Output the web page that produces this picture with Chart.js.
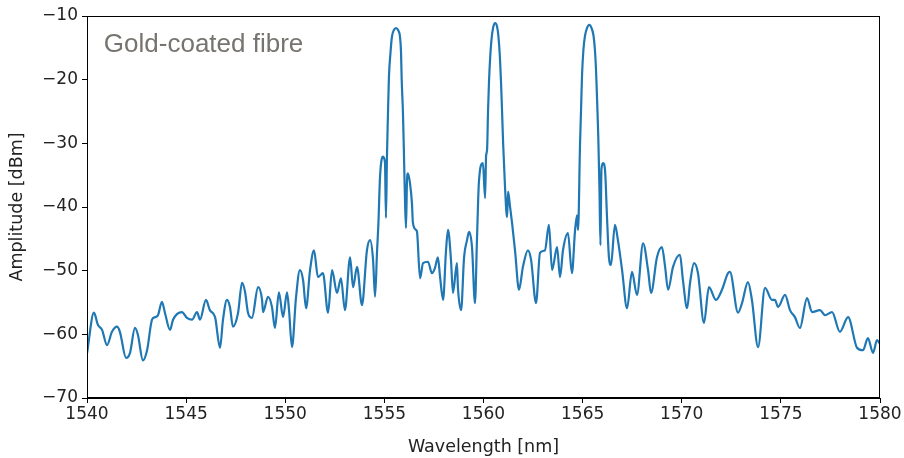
<!DOCTYPE html>
<html>
<head>
<meta charset="utf-8">
<script src="https://cdn.jsdelivr.net/npm/chart.js@4"></script>
<style>
  html, body { margin: 0; padding: 0; background: white; }
  #box { width: 904px; height: 458px; }
</style>
</head>
<body>
<div id="box"><canvas id="plots"></canvas></div>
<script>
// Wavelength [nm], left to right
var wavelength = [1540.00, 1540.35, 1540.55, 1540.76, 1541.01, 1541.26, 1541.51, 1541.66, 1541.97, 1542.17,
  1542.42, 1542.57, 1542.82, 1543.03, 1543.28, 1543.43, 1543.58, 1543.78, 1543.93, 1544.19,
  1544.34, 1544.79, 1545.04, 1545.30, 1545.55, 1545.70, 1546.00, 1546.20, 1546.46, 1546.71,
  1546.86, 1547.06, 1547.21, 1547.36, 1547.62, 1547.82, 1547.97, 1548.12, 1548.32, 1548.63,
  1548.83, 1548.88, 1549.13, 1549.33, 1549.48, 1549.68, 1549.89, 1550.09, 1550.19, 1550.34,
  1550.54, 1550.74, 1550.90, 1551.05, 1551.25, 1551.45, 1551.65, 1551.90, 1552.16, 1552.36,
  1552.61, 1552.81, 1553.01, 1553.27, 1553.42, 1553.62, 1553.87, 1554.12, 1554.28, 1554.43,
  1554.53, 1554.63, 1554.70, 1554.78, 1554.93, 1555.03, 1555.08, 1555.13,
  // first peak
  1555.18, 1555.23, 1555.31, 1555.38, 1555.48, 1555.59, 1555.69, 1555.79, 1555.84, 1555.87,
  1555.94, 1555.99, 1556.04, 1556.09,
  1556.14, 1556.19, 1556.29, 1556.39, 1556.44,
  1556.60, 1556.65, 1556.80, 1556.95, 1557.20, 1557.40, 1557.55, 1557.70, 1557.81, 1557.96,
  1558.11, 1558.21, 1558.36, 1558.46, 1558.66, 1558.71, 1558.87, 1559.02, 1559.17, 1559.27,
  1559.42, 1559.57, 1559.67, 1559.77, 1559.97, 1560.08, 1560.13,
  // second peak
  1560.18, 1560.23, 1560.28, 1560.33, 1560.40, 1560.48, 1560.58, 1560.68, 1560.75, 1560.83,
  1560.88, 1560.93, 1560.99, 1561.08, 1561.19,
  1561.24, 1561.34, 1561.44, 1561.59, 1561.79, 1561.99, 1562.24, 1562.40,
  1562.65, 1562.85, 1563.10, 1563.30, 1563.46, 1563.71, 1563.86, 1564.01, 1564.26, 1564.46,
  1564.62, 1564.72, 1564.77,
  // third peak
  1564.87, 1564.92, 1564.97, 1565.04, 1565.12, 1565.22, 1565.34, 1565.45, 1565.55, 1565.62,
  1565.68, 1565.73, 1565.79, 1565.85, 1565.90,
  1565.95, 1566.03, 1566.13, 1566.23, 1566.33, 1566.43, 1566.63, 1566.78, 1566.99, 1567.24, 1567.49,
  1567.74, 1568.05, 1568.30, 1568.45, 1568.75, 1569.00, 1569.16, 1569.31, 1569.56, 1569.91,
  1570.06, 1570.27, 1570.42, 1570.62, 1570.82, 1571.12, 1571.37, 1571.73, 1572.03, 1572.33,
  1572.43, 1572.84, 1573.04, 1573.34, 1573.54, 1573.85, 1574.20, 1574.55, 1574.70, 1574.86,
  1575.21, 1575.46, 1575.71, 1575.96, 1576.32, 1576.57, 1576.97, 1577.23, 1577.58, 1577.98,
  1578.39, 1578.84, 1579.14, 1579.39, 1579.65, 1579.85, 1580.00];

// Amplitude [dBm] at each wavelength above
var amplitude = [-63.0, -56.6, -58.5, -59.3, -61.7, -59.6, -58.8, -59.6, -63.7, -62.9,
  -59.0, -60.1, -64.1, -62.5, -57.7, -57.3, -57.0, -54.9, -56.6, -59.3,
  -57.7, -56.5, -57.4, -57.7, -56.5, -57.7, -54.6, -56.2, -57.3, -62.1,
  -57.7, -54.6, -55.7, -58.8, -56.6, -51.9, -53.3, -56.6, -57.4, -52.6,
  -54.6, -56.5, -54.1, -55.7, -59.0, -53.4, -57.3, -53.4, -56.2, -62.0,
  -54.3, -49.9, -51.5, -55.9, -49.9, -46.8, -51.0, -50.4, -56.6, -49.9,
  -53.5, -51.2, -56.2, -47.9, -52.6, -49.4, -55.4, -46.8, -45.2, -48.3,
  -54.1, -47.0, -42.5, -35.3, -32.1, -33.0, -41.7, -32.1,
  -25.5, -19.6, -15.7, -13.3, -12.2, -11.9, -12.2, -13.3, -15.7, -19.6,
  -25.5, -32.1, -38.9, -43.3,
  -36.0, -34.7, -36.2, -39.4, -42.5,
  -43.6, -44.0, -51.2, -48.8, -48.6, -50.4, -49.6, -47.9, -51.0, -54.6,
  -46.8, -43.6, -48.3, -53.5, -48.8, -52.6, -56.2, -47.9, -45.2, -43.9,
  -46.3, -55.1, -45.2, -36.0, -33.1, -38.6, -32.0,
  -31.0, -24.8, -20.1, -16.9, -13.8, -11.9, -11.1, -11.6, -13.1, -16.6,
  -20.1, -24.4, -30.0, -36.5, -41.6,
  -37.6, -40.0, -42.5, -46.8, -53.0, -49.4, -46.8, -48.3,
  -55.1, -47.2, -46.8, -42.8, -49.9, -46.3, -51.0, -46.8, -44.1, -50.4,
  -43.6, -41.3, -43.6,
  -30.0, -24.8, -19.3, -15.3, -13.1, -11.9, -11.4, -11.9, -13.1, -15.3,
  -18.8, -23.2, -29.0, -37.3, -46.0,
  -34.0, -33.1, -34.2, -41.6, -48.0, -49.1, -42.8, -45.2, -49.9, -55.9, -50.2,
  -53.8, -45.7, -49.9, -53.5, -47.9, -46.3, -49.4, -53.0, -49.4, -47.5,
  -51.5, -55.9, -51.9, -48.8, -50.4, -58.2, -52.6, -54.6, -53.0, -50.4,
  -50.2, -56.6, -55.1, -51.8, -54.6, -62.0, -52.7, -54.6, -54.6, -55.7,
  -53.8, -56.2, -57.3, -59.0, -54.3, -56.5, -56.2, -57.0, -56.5, -59.6,
  -57.3, -62.1, -62.5, -60.6, -62.9, -60.9, -61.5];

// Axis ticks and the label written inside the plot
var xTicks = [1540, 1545, 1550, 1555, 1560, 1565, 1570, 1575, 1580];
var yTicks = [-70, -60, -50, -40, -30, -20, -10];
var label = "Gold-coated fibre";

var points = wavelength.map(function (w, i) { return { x: w, y: amplitude[i] }; });

var tickFont = { family: "'DejaVu Sans', sans-serif", size: 17 };
var titleFont = { family: "'DejaVu Sans', sans-serif", size: 17.5 };

// matplotlib style frame and inside label
var frame = {
  id: 'frame',
  afterDraw: function (chart) {
    var c = chart.ctx, a = chart.chartArea;
    c.save();
    c.strokeStyle = '#000';
    c.lineWidth = 1;
    c.strokeRect(a.left + 0.5, a.top + 0.5, a.right - a.left - 1, a.bottom - a.top - 1);
    c.fillStyle = '#777470';
    c.font = "26px 'Liberation Sans', Arial, sans-serif";
    c.textBaseline = 'middle';
    c.fillText(label, chart.scales.x.getPixelForValue(1540.85), chart.scales.y.getPixelForValue(-14.6));
    c.restore();
  }
};

plots = document.getElementById("plots");
new Chart(plots, {
  type: 'line',
  data: {
    datasets: [{
      data: points,
      borderColor: '#1f77b4',
      borderWidth: 2.2,
      pointRadius: 0,
      fill: false,
      cubicInterpolationMode: 'monotone'
    }]
  },
  options: {
    responsive: true,
    maintainAspectRatio: false,
    animation: false,
    layout: { padding: { top: 16, right: 24, left: 0, bottom: 0 } },
    plugins: { legend: { display: false }, tooltip: { enabled: false } },
    scales: {
      x: {
        type: 'linear',
        min: 1540, max: 1580,
        afterBuildTicks: function (s) { s.ticks = xTicks.map(function (v) { return { value: v }; }); },
        afterFit: function (s) { s.height = 60; },
        grid: { display: true, drawOnChartArea: false, drawTicks: true, tickLength: 5, color: '#000' },
        border: { display: true, color: '#000' },
        ticks: {
          color: '#222', font: tickFont, padding: 1, maxRotation: 0,
          callback: function (v) { return String(v); }
        },
        title: { display: true, text: 'Wavelength [nm]', color: '#222', font: titleFont, padding: { top: 6, bottom: 0 } }
      },
      y: {
        min: -70, max: -10,
        afterBuildTicks: function (s) { s.ticks = yTicks.map(function (v) { return { value: v }; }); },
        afterFit: function (s) { s.width = 87; },
        grid: { display: true, drawOnChartArea: false, drawTicks: true, tickLength: 5, color: '#000' },
        border: { display: true, color: '#000' },
        ticks: {
          color: '#222', font: tickFont, padding: 4,
          callback: function (v) { return String(v).replace('-', '\u2212'); }
        },
        title: { display: true, text: 'Amplitude [dBm]', color: '#222', font: titleFont, padding: { top: 7, bottom: 0 } }
      }
    }
  },
  plugins: [frame]
});
</script>
</body>
</html>
